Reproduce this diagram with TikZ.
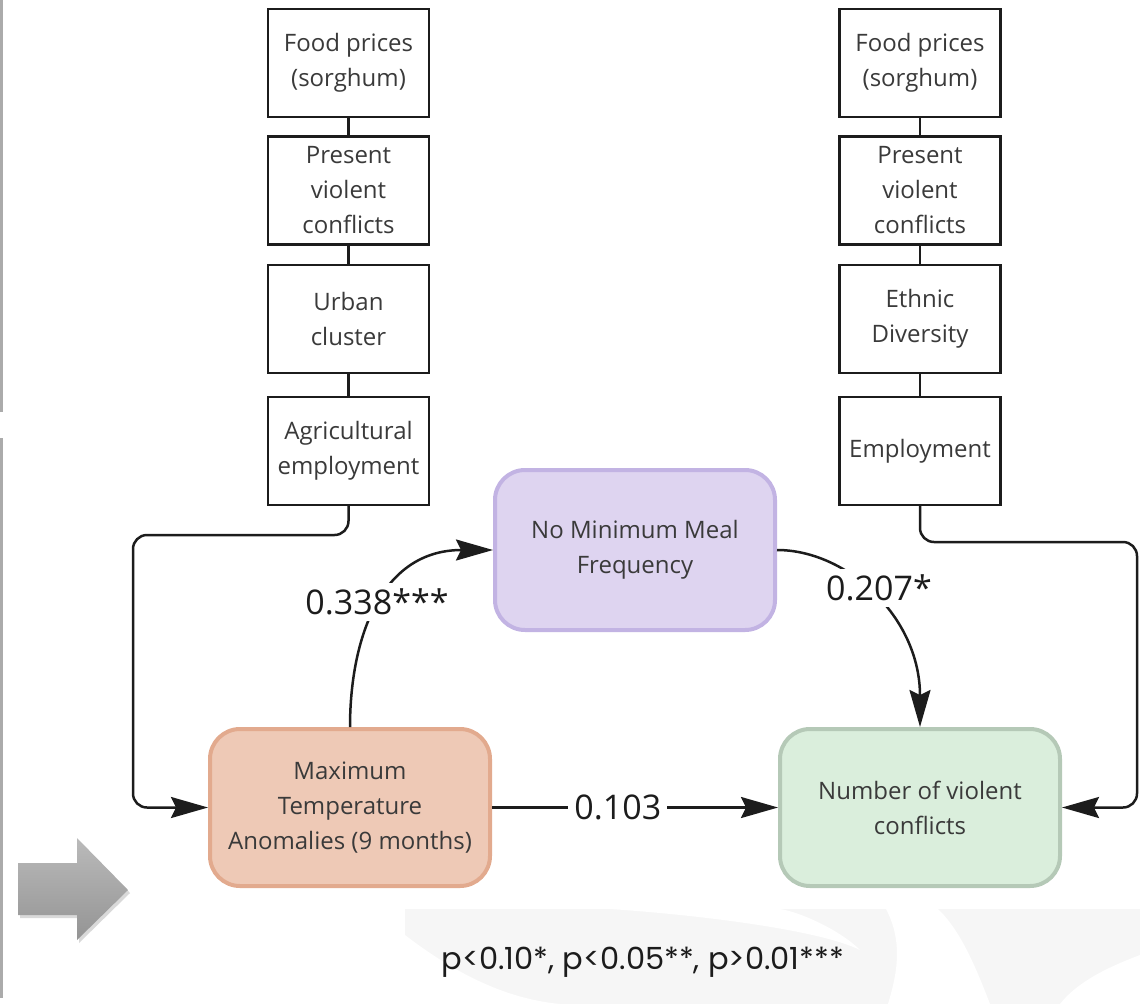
\documentclass[tikz,border=0pt]{standalone}
\usepackage{fontspec}
\setmainfont{Open Sans}
\newfontfamily\notefont{Poppins}
\usetikzlibrary{arrows.meta,shadows}

\definecolor{txt}{HTML}{3A3A3A}
\definecolor{ink}{HTML}{1C1C1C}
\definecolor{medfill}{HTML}{DED4F0}
\definecolor{medline}{HTML}{C2B3E3}
\definecolor{expfill}{HTML}{EEC9B6}
\definecolor{expline}{HTML}{E2AA8E}
\definecolor{outfill}{HTML}{DAEEDC}
\definecolor{outline}{HTML}{B5C9B7}
\definecolor{wmark}{HTML}{F6F6F6}
\definecolor{edgebar}{HTML}{ABABAB}

\begin{document}
\begin{tikzpicture}[x=1pt,y=-1pt,
  factor/.style={draw=ink, line width=2.4pt, fill=white,
    minimum width=161pt, minimum height=108pt, inner sep=0pt,
    align=center, text=txt, font=\fontsize{24}{35}\selectfont},
  core/.style={rounded corners=30pt, line width=4pt,
    minimum width=280pt, minimum height=157pt, inner sep=0pt,
    align=center, text=txt, font=\fontsize{24}{35}\selectfont},
  coef/.style={fill=white, inner sep=6pt, text=ink,
    font=\fontsize{34}{40}\selectfont},
  conn/.style={draw=ink, line width=2.5pt},
  arrowed/.style={-{Stealth[length=37pt,width=21pt,inset=5pt]}},
  link/.style={draw=ink, line width=2.5pt}]

\useasboundingbox (0,0) rectangle (1140,1004);

% faint background motif along the bottom edge
\fill[wmark] (405,909) rectangle (1140,1004);
\fill[white] (405,935) .. controls (470,985) and (520,1000) .. (560,1004) -- (405,1004) -- cycle;
\fill[white] (610,909) .. controls (700,915) and (820,930) .. (860,950)
  .. controls (840,930) and (800,912) .. (780,909) -- cycle;
\fill[white] (886,909) .. controls (905,945) and (895,980) .. (888,1004)
  -- (990,1004) .. controls (975,965) and (960,930) .. (938,909) -- cycle;
\fill[white] (1140,955) .. controls (1100,970) and (1075,985) .. (1060,1004) -- (1140,1004) -- cycle;

% thin grey bar on the left edge
\fill[edgebar] (0,0) rectangle (3,412);
\fill[edgebar] (0,438) rectangle (3,998);

% grey block arrow
\shade[top color=black!27, bottom color=black!42,
  drop shadow={shadow xshift=2pt, shadow yshift=-3pt, opacity=0.3}]
  (18,863) -- (77,863) -- (77,838) -- (128,890) -- (77,940) -- (77,915) -- (18,915) -- cycle;

% control variables, left column
\node[factor] (L1) at (348.5,63)  {Food prices\\(sorghum)};
\node[factor] (L2) at (348.5,190.5) {Present\\violent\\conflicts};
\node[factor] (L3) at (348.5,319) {Urban\\cluster};
\node[factor] (L4) at (348.5,451) {Agricultural\\employment};

% control variables, right column
\node[factor] (R1) at (920,63)  {Food prices\\(sorghum)};
\node[factor] (R2) at (920,190.5) {Present\\violent\\conflicts};
\node[factor] (R3) at (920,319) {Ethnic\\Diversity};
\node[factor] (R4) at (920,451) {Employment};

\foreach \a/\b in {L1/L2, L2/L3, L3/L4, R1/R2, R2/R3, R3/R4}
  \draw[link] (\a.south) -- (\b.north);

% main variables
\node[core, fill=medfill, draw=medline, minimum height=160pt] (P) at (635,550)
  {No Minimum Meal\\Frequency};
\node[core, fill=expfill, draw=expline] (O) at (350,807.5)
  {Maximum\\Temperature\\Anomalies (9 months)};
\node[core, fill=outfill, draw=outline] (G) at (920,807.5)
  {Number of violent\\conflicts};

% controls feeding into the main variables
\coordinate (lbend) at (133,535);
\coordinate (rbend) at (1137,542);
\draw[conn, arrowed, rounded corners=14pt] (L4.south) |- (lbend) |- (O.west);
\draw[conn, arrowed, rounded corners=14pt] (R4.south) |- (rbend) |- (G.east);

% paths with coefficients
\draw[conn, arrowed] (O.north) .. controls +(0,-87) and +(-113,0) .. (P.west);
\node[coef] (c1) at (377,602) {0.338***};

\draw[conn, arrowed] (P.east) .. controls +(70,0) and +(0,-110) .. (G.north);
\node[coef] (c2) at (879,588) {0.207*};

\draw[conn, arrowed] (O.east) -- node[coef, pos=0.44] (c3) {0.103} (G.west);

% significance legend
\node[font=\notefont\fontsize{30.5}{36}\selectfont, text=ink] (note) at (643,962)
  {p<0.10*, p<0.05**, p>0.01***};
\end{tikzpicture}
\end{document}
